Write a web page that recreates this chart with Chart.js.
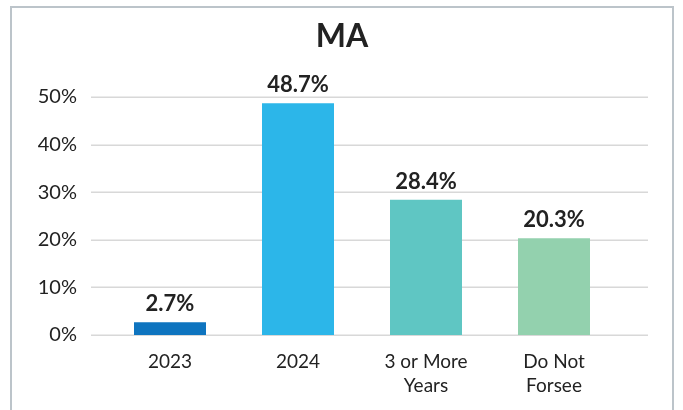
<!DOCTYPE html>
<html>
<head>
<meta charset="utf-8">
<script src="https://cdn.jsdelivr.net/npm/chart.js@4.4.1/dist/chart.umd.min.js"></script>
<style>
  html, body { margin: 0; padding: 0; background: #fff; overflow: hidden; }
  #wrap { position: relative; width: 683px; height: 410px; }
  #frame {
    position: absolute; left: 10px; top: 6px; width: 664px; height: 500px;
    border: 2px solid #bcc4ca; box-sizing: border-box;
  }
  canvas { position: absolute; left: 0; top: 0; }
</style>
</head>
<body>
<div id="wrap">
  <div id="frame"></div>
  <canvas id="chart" width="683" height="410"></canvas>
</div>
<script>
const titleText = 'MA';
const categories = ['2023', '2024', ['3 or More', 'Years'], ['Do Not', 'Forsee']];
const values = [2.7, 48.7, 28.4, 20.3];
const barColors = ['#0e74bf', '#2cb6e9', '#5fc6c3', '#93d1ae'];
const yTicks = [0, 10, 20, 30, 40, 50];

const fontFamily = 'Lato, "Open Sans", sans-serif';

// title is centred on the whole frame, not on the plot
const frameTitle = {
  id: 'frameTitle',
  afterDraw(chart) {
    const ctx = chart.ctx;
    ctx.save();
    ctx.font = 'bold 32px ' + fontFamily;
    ctx.fillStyle = '#222';
    ctx.textAlign = 'center';
    ctx.textBaseline = 'middle';
    ctx.fillText(titleText, 342, 37);
    ctx.restore();
  }
};

// grid lines run wider than the bars' category band
const wideGrid = {
  id: 'wideGrid',
  beforeDatasetsDraw(chart) {
    const ctx = chart.ctx;
    const y = chart.scales.y;
    ctx.save();
    ctx.strokeStyle = '#d8d8d8';
    ctx.lineWidth = 1.5;
    yTicks.forEach((t) => {
      const py = Math.round(y.getPixelForValue(t)) + 0.25;
      ctx.beginPath();
      ctx.moveTo(chart.chartArea.left - 15, py);
      ctx.lineTo(chart.chartArea.right + 30, py);
      ctx.stroke();
    });
    ctx.restore();
  }
};

// value labels above bars
const valueLabels = {
  id: 'valueLabels',
  afterDatasetsDraw(chart) {
    const ctx = chart.ctx;
    const meta = chart.getDatasetMeta(0);
    ctx.save();
    ctx.font = 'bold 22px ' + fontFamily;
    ctx.fillStyle = '#222';
    ctx.textAlign = 'center';
    ctx.textBaseline = 'alphabetic';
    meta.data.forEach((bar, i) => {
      ctx.fillText(values[i].toFixed(1) + '%', bar.x, bar.y - 11);
    });
    ctx.restore();
  }
};

new Chart(document.getElementById('chart'), {
  type: 'bar',
  data: {
    labels: categories,
    datasets: [{
      data: values,
      backgroundColor: barColors,
      barPercentage: 0.5625,
      categoryPercentage: 1
    }]
  },
  options: {
    responsive: false,
    animation: false,
    events: [],
    layout: { padding: { left: 0, right: 65, top: 97, bottom: 0 } },
    plugins: {
      legend: { display: false },
      tooltip: { enabled: false },
      title: { display: false }
    },
    scales: {
      x: {
        grid: { display: false, drawTicks: false },
        border: { display: false },
        ticks: {
          color: '#222',
          padding: 15,
          maxRotation: 0,
          font: { family: fontFamily, size: 19, lineHeight: 1.26 }
        },
        afterFit(scale) { scale.height = 75; }
      },
      y: {
        min: 0,
        max: 50,
        grid: { display: false, drawTicks: false },
        border: { display: false },
        ticks: {
          stepSize: 10,
          color: '#222',
          padding: 29,
          font: { family: fontFamily, size: 20 },
          callback: (v) => v + '%'
        },
        afterFit(scale) { scale.width = 106; }
      }
    }
  },
  plugins: [wideGrid, valueLabels, frameTitle]
});
</script>
</body>
</html>
